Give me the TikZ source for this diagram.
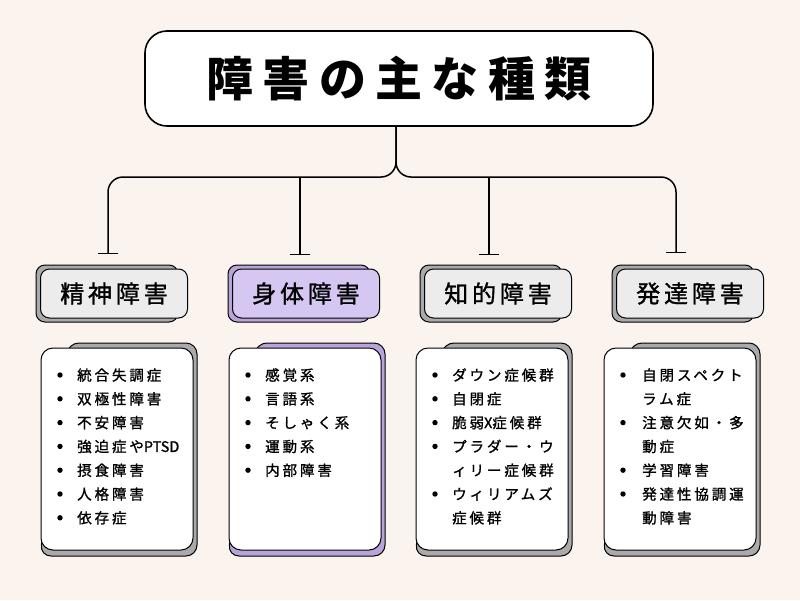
\documentclass[tikz,border=0pt]{standalone}
\usepackage{fontspec}
\newfontfamily\titlejp[LetterSpace=20]{Noto Sans CJK JP}
\newfontfamily\catjp[LetterSpace=16,FakeBold=1.2]{Noto Sans CJK JP}
\newfontfamily\listjp[LetterSpace=20,FakeBold=1.2]{Noto Sans CJK JP}
\newfontfamily\latinjp[FakeBold=1.2]{Noto Sans CJK JP}
\usetikzlibrary{arrows.meta}

\definecolor{bgpeach}{RGB}{250,243,238}
\definecolor{cardgray}{RGB}{170,170,170}
\definecolor{boxgray}{RGB}{236,236,236}
\definecolor{lilac}{RGB}{214,198,242}
\definecolor{lilacdark}{RGB}{184,164,216}

\newcommand\lat[1]{{\latinjp #1}}

\tikzset{
	titlebox/.style={draw, line width=1.6pt, rounded corners=22pt, fill=white,
		minimum width=508pt, minimum height=95pt,
		font=\titlejp\bfseries\fontsize{47}{52}\selectfont},
	catbox/.style={draw, line width=1pt, rounded corners=9pt, fill=boxgray,
		minimum width=147pt, minimum height=49pt,
		font=\catjp\fontsize{24}{28}\selectfont},
	backcard/.style={draw, line width=1pt, rounded corners=9pt},
	listcard/.style={draw, line width=1pt, rounded corners=12pt, fill=white,
		minimum width=152pt, minimum height=202pt},
	item/.style={anchor=west, inner sep=0pt, text height=12.8pt, text depth=1.7pt,
		font=\listjp\fontsize{14.5}{17}\selectfont},
	branch/.style={line width=1.5pt, -{Bar[width=20pt,line width=1.5pt]}},
}

\begin{document}
\begin{tikzpicture}[x=1pt,y=-1pt]

% parameters %{{{2

	\def\rowtop{375}
	\def\rowgap{23.8}

% canvas %{{{2

	\useasboundingbox (0,0) rectangle (800,600);
	\fill[bgpeach] (0,0) rectangle (800,600);

% title %{{{2

	\node[titlebox] (title) at (399,78.5) {障害の主な種類};

% coordinates %{{{2

	\coordinate (stem) at ([xshift=-3pt]title.south);
	\coordinate (fork) at (396,177);

	\coordinate (e1) at (108,254);
	\coordinate (e2) at (300,255);
	\coordinate (e3) at (489,255);
	\coordinate (e4) at (676,253);

% connectors %{{{2

	\draw[branch, rounded corners=15pt] (stem) -- (fork) -| (e1);
	\draw[branch, rounded corners=15pt] (stem) -- (fork) -| (e4);
	\draw[branch] (fork -| e2) -- (e2);
	\draw[branch] (fork -| e3) -- (e3);

% category cards %{{{2

	\foreach \cx/\col in {114/cardgray, 306/lilacdark, 498/cardgray, 690/cardgray} {
		\draw[backcard, fill=\col] (\cx-78,265) rectangle (\cx+64,322);
	}

	\node[catbox] (mental) at (114,293.5) {精神障害};
	\node[catbox, fill=lilac] (physical) at (306,293.5) {身体障害};
	\node[catbox] (intel) at (498,293.5) {知的障害};
	\node[catbox] (devel) at (690,293.5) {発達障害};

% list cards %{{{2

	\foreach \L/\col [count=\n] in {41/cardgray, 229/lilacdark, 416/cardgray, 604/cardgray} {
		\draw[backcard, fill=\col, rounded corners=11pt]
			(\L+27,343) -- (\L+156,343) -- (\L+156,556) -- (\L-1,556) -- cycle;
		\node[listcard] (list\n) at (\L+76,449) {};
	}

% list items %{{{2

	\foreach \t [count=\i] in {統合失調症, 双極性障害, 不安障害, 強迫症や\lat{PTSD},
		摂食障害, 人格障害, 依存症} {
		\node[item] (mental\i) at (77, {\rowtop+\rowgap*(\i-1)}) {\t};
		\fill (60, {\rowtop+\rowgap*(\i-1)}) circle (2.7);
	}

	\foreach \t [count=\i] in {感覚系, 言語系, そしゃく系, 運動系, 内部障害} {
		\node[item] (physical\i) at (265, {\rowtop+\rowgap*(\i-1)}) {\t};
		\fill (248, {\rowtop+\rowgap*(\i-1)}) circle (2.7);
	}

	\foreach \f/\t [count=\i] in {1/ダウン症候群, 1/自閉症, 1/脆弱\lat{X}症候群,
		1/プラダー・ウ, 0/ィリー症候群, 1/ウィリアムズ, 0/症候群} {
		\node[item] (intel\i) at (452, {\rowtop+\rowgap*(\i-1)}) {\t};
		\ifnum\f=1 \fill (435, {\rowtop+\rowgap*(\i-1)}) circle (2.7); \fi
	}

	\foreach \f/\t [count=\i] in {1/自閉スペクト, 0/ラム症, 1/注意欠如・多,
		0/動症, 1/学習障害, 1/発達性協調運, 0/動障害} {
		\node[item] (devel\i) at (642, {\rowtop+\rowgap*(\i-1)}) {\t};
		\ifnum\f=1 \fill (623, {\rowtop+\rowgap*(\i-1)}) circle (2.7); \fi
	}

% closing %{{{2

\end{tikzpicture}
\end{document}
